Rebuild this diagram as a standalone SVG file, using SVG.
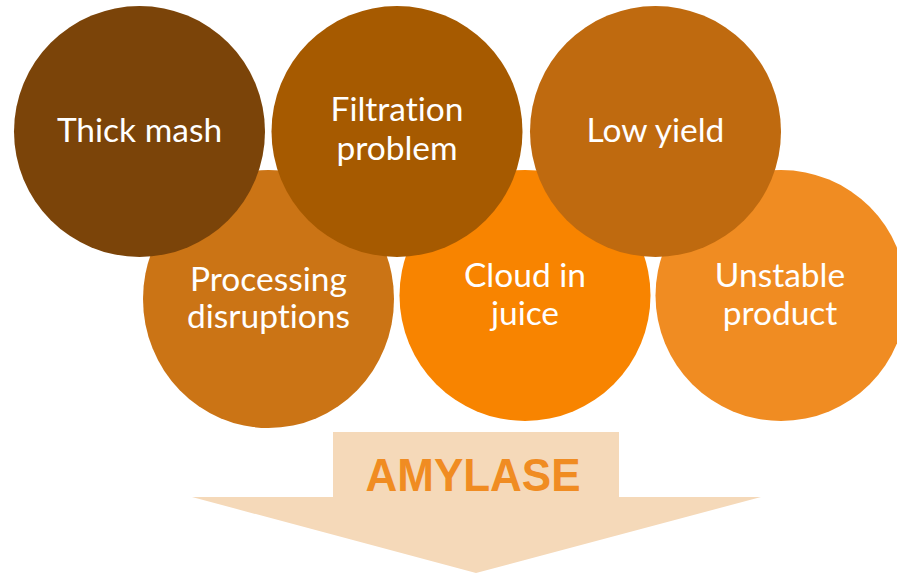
<svg xmlns="http://www.w3.org/2000/svg" width="897" height="573" viewBox="0 0 897 573">
<style>
.lbl{font-family:Lato,"Open Sans","Liberation Sans",sans-serif;font-size:33.5px;fill:#FFFFFF;text-anchor:middle;font-variant-ligatures:none;font-feature-settings:"liga" 0,"dlig" 0}
.amy{font-family:"Liberation Sans",Arial,sans-serif;font-size:47px;font-weight:bold;fill:#F08C22;text-anchor:middle}
</style>
<rect width="897" height="573" fill="#FFFFFF"/>
<g id="arrow">
<polygon points="333,432 619,432 619,497 761,497 476,573 192,497 333,497" fill="#F5D9B9"/>
<text class="amy" x="473" y="491" textLength="215" lengthAdjust="spacingAndGlyphs">AMYLASE</text>
</g>
<g id="connectors"></g>
<g id="processing">
<ellipse cx="268.5" cy="299" rx="125.5" ry="129" fill="#CB7415"/>
<text class="lbl" x="268.5" y="291">Processing</text>
<text class="lbl" x="268.5" y="328">disruptions</text>
</g>
<g id="cloud">
<circle cx="525" cy="295.5" r="125.5" fill="#F88400"/>
<text class="lbl" x="525" y="287">Cloud in</text>
<text class="lbl" x="525" y="325">juice</text>
</g>
<g id="unstable">
<circle cx="781" cy="295.5" r="125.5" fill="#F08C22"/>
<text class="lbl" x="780" y="287">Unstable</text>
<text class="lbl" x="780" y="325">product</text>
</g>
<g id="thick">
<circle cx="139.5" cy="131.5" r="125.5" fill="#7B4409"/>
<text class="lbl" x="139.5" y="142">Thick mash</text>
</g>
<g id="filtration">
<circle cx="397" cy="131.5" r="125.5" fill="#A65A00"/>
<text class="lbl" x="397" y="121">Filtration</text>
<text class="lbl" x="397" y="160">problem</text>
</g>
<g id="lowyield">
<circle cx="655.5" cy="131.5" r="125.5" fill="#BF6A0F"/>
<text class="lbl" x="655.5" y="142">Low yield</text>
</g>
</svg>
